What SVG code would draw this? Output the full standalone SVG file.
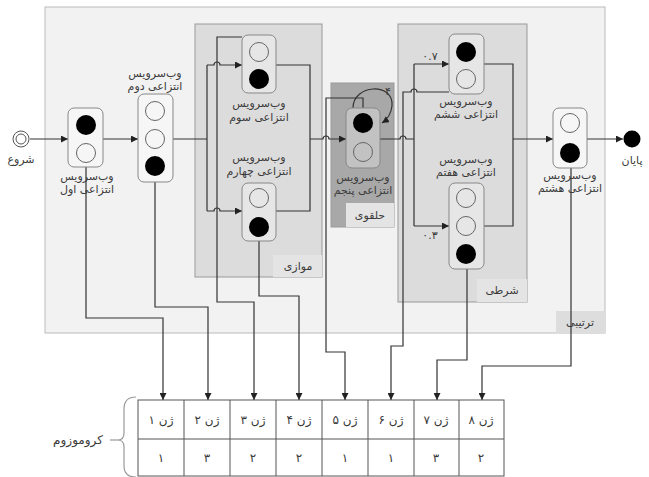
<svg xmlns="http://www.w3.org/2000/svg" width="649" height="477" viewBox="0 0 649 477">
<defs>
<marker id="arr" viewBox="0 0 10 10" refX="10" refY="5" markerWidth="7" markerHeight="7" markerUnits="userSpaceOnUse" orient="auto">
<path d="M0,0 L10,5 L0,10 z" fill="#222"/>
</marker>
<style>
text{font-family:"DejaVu Sans","Noto Sans",sans-serif;fill:#3a3a3a;font-size:11px;text-anchor:middle;}
.rtl{direction:rtl;}
.ltr{direction:ltr;}
.ws{fill:#ffffff;fill-opacity:0.3;stroke:#888;stroke-width:1;}
.wc{fill:none;stroke:#666;stroke-width:1;}
.bc{fill:#000;}
.con{fill:none;stroke:#333;stroke-width:1.2;}
.arrow{marker-end:url(#arr);}
.lbl{fill:#e4e4e4;}
.cell{fill:none;stroke:#555;stroke-width:1;}
.g{font-size:12px;}
</style>
</defs>

<g id="sequential">
<rect x="45" y="7" width="560" height="326" fill="#f2f2f2" stroke="#bbb" stroke-width="1"/>
<rect x="556" y="311" width="49" height="22" fill="#dddddd"/>
<text x="580" y="326" class="rtl">ترتیبی</text>
</g>
<g id="parallel">
<rect x="195" y="24" width="127" height="253" fill="#dcdcdc" stroke="#999" stroke-width="1"/>
<rect x="273" y="255" width="49" height="22" class="lbl"/>
<text x="298" y="270" class="rtl">موازی</text>
</g>
<g id="loop">
<rect x="331" y="83" width="63" height="144" fill="#a8a8a8" stroke="#999" stroke-width="1"/>
<rect x="346" y="203" width="48" height="24" class="lbl"/>
<text x="370" y="219" class="rtl">حلقوی</text>
</g>
<g id="conditional">
<rect x="398" y="24" width="129" height="278" fill="#dcdcdc" stroke="#999" stroke-width="1"/>
<rect x="477" y="279" width="50" height="23" class="lbl"/>
<text x="502" y="294" class="rtl">شرطی</text>
</g>

<g id="connectors">
<path class="con arrow" d="M30 139 L68 139"/>
<path class="con arrow" d="M103 139 L138 139"/>
<path class="con" d="M173 139 L207 139 M207 65 L207 211"/>
<path class="con arrow" d="M207 65 L214 65 A3 3 0 0 1 220 65 L242 65"/>
<path class="con arrow" d="M207 211 L214 211 A3 3 0 0 1 220 211 L242 211"/>
<path class="con" d="M276 65 L310 65 L310 211 L276 211"/>
<path class="con arrow" d="M310 139 L323 139 A3 3 0 0 1 329 139 L346 139"/>
<path class="con arrow" d="M353 108 C353 84, 394 82, 392 106 C391 114, 388 119, 382 123"/>
<path class="con" d="M380 139 L400 139 A3 3 0 0 1 406 139 L414 139 M414 64 L414 226"/>
<path class="con arrow" d="M414 64 L449 64"/>
<path class="con arrow" d="M414 226 L449 226"/>
<path class="con" d="M484 64 L513 64 L513 226 L484 226"/>
<path class="con arrow" d="M513 139 L553 139"/>
<path class="con arrow" d="M587 139 L623 139"/>
<path class="con arrow" d="M86 167 L86 318 L163 318 L163 400"/>
<path class="con arrow" d="M155 182 L155 307 L208 307 L208 400"/>
<path class="con arrow" d="M242 37 L217 37 L217 302 L254 302 L254 400"/>
<path class="con arrow" d="M259 241 L259 296 L299 296 L299 400"/>
<path class="con arrow" d="M363 108 L363 98 L326 98 L326 352 L345 352 L345 400"/>
<path class="con arrow" d="M449 92 L417 92 A3 3 0 0 0 411 92 L403 92 L403 346 L391 346 L391 400"/>
<path class="con arrow" d="M467 269 L467 360 L437 360 L437 400"/>
<path class="con arrow" d="M571 168 L571 366 L482 366 L482 400"/>
<text x="430" y="60" class="ltr">۰.۷</text>
<text x="430" y="239" class="ltr">۰.۳</text>
<text x="388" y="95">۴</text>
</g>

<g id="start">
<circle cx="21" cy="139" r="8" fill="#fff" stroke="#555" stroke-width="1"/>
<circle cx="21" cy="139" r="5" fill="#fff" stroke="#555" stroke-width="1"/>
<text x="21" y="163" class="rtl">شروع</text>
</g>

<g id="ws1">
<rect x="68" y="108" width="35" height="59" rx="6" class="ws"/>
<circle cx="86" cy="125" r="10" class="bc"/>
<circle cx="86" cy="153" r="9.5" class="wc"/>
<text x="87" y="180" class="rtl">وب‌سرویس</text>
<text x="87" y="193" class="rtl">انتزاعی اول</text>
</g>

<g id="ws2">
<rect x="138" y="94" width="35" height="88" rx="6" class="ws"/>
<circle cx="155" cy="111" r="9.5" class="wc"/>
<circle cx="155" cy="139" r="9.5" class="wc"/>
<circle cx="155" cy="166" r="10" class="bc"/>
<text x="155" y="77" class="rtl">وب‌سرویس</text>
<text x="155" y="90" class="rtl">انتزاعی دوم</text>
</g>

<g id="ws3">
<rect x="242" y="35" width="34" height="58" rx="6" class="ws"/>
<circle cx="259" cy="52" r="9.5" class="wc"/>
<circle cx="259" cy="79" r="10" class="bc"/>
<text x="259" y="107" class="rtl">وب‌سرویس</text>
<text x="259" y="121" class="rtl">انتزاعی سوم</text>
</g>

<g id="ws4">
<rect x="242" y="183" width="34" height="58" rx="6" class="ws"/>
<circle cx="259" cy="198" r="9.5" class="wc"/>
<circle cx="259" cy="227" r="10" class="bc"/>
<text x="259" y="161" class="rtl">وب‌سرویس</text>
<text x="259" y="175" class="rtl">انتزاعی چهارم</text>
</g>

<g id="ws5">
<rect x="346" y="108" width="34" height="60" rx="6" class="ws"/>
<circle cx="363" cy="123" r="10" class="bc"/>
<circle cx="363" cy="152" r="9.5" class="wc"/>
<text x="363" y="181" class="rtl">وب‌سرویس</text>
<text x="363" y="194" class="rtl">انتزاعی پنجم</text>
</g>

<g id="ws6">
<rect x="449" y="34" width="35" height="60" rx="6" class="ws"/>
<circle cx="466" cy="52" r="10" class="bc"/>
<circle cx="466" cy="79" r="9.5" class="wc"/>
<text x="466" y="105" class="rtl">وب‌سرویس</text>
<text x="466" y="118" class="rtl">انتزاعی ششم</text>
</g>

<g id="ws7">
<rect x="449" y="183" width="35" height="86" rx="6" class="ws"/>
<circle cx="466" cy="198" r="9.5" class="wc"/>
<circle cx="466" cy="226" r="9.5" class="wc"/>
<circle cx="466" cy="254" r="10" class="bc"/>
<text x="466" y="163" class="rtl">وب‌سرویس</text>
<text x="466" y="176" class="rtl">انتزاعی هفتم</text>
</g>

<g id="ws8">
<rect x="553" y="108" width="34" height="60" rx="6" class="ws"/>
<circle cx="570" cy="123" r="9.5" class="wc"/>
<circle cx="570" cy="153" r="10" class="bc"/>
<text x="570" y="179" class="rtl">وب‌سرویس</text>
<text x="570" y="192" class="rtl">انتزاعی هشتم</text>
</g>

<g id="end">
<circle cx="632" cy="139" r="8.5" fill="#000"/>
<text x="632" y="164" class="rtl">پایان</text>
</g>

<g id="chromosome">
<path d="M136 397 Q124 397 124 409 L124 433 Q124 440 118 440 Q124 440 124 447 L124 466 Q124 477 136 477" fill="none" stroke="#999" stroke-width="1.2"/>
<path d="M110 440 L118 440" stroke="#999" stroke-width="1.2"/>
<text x="78" y="444" class="rtl g">کروموزوم</text>
<rect x="138" y="400" width="366" height="76" class="cell"/>
<path class="cell" d="M138 439 L504 439 M184 400 L184 476 M230 400 L230 476 M276 400 L276 476 M322 400 L322 476 M368 400 L368 476 M414 400 L414 476 M459 400 L459 476"/>
<text x="161" y="424" class="rtl g">ژن ۱</text>
<text x="207" y="424" class="rtl g">ژن ۲</text>
<text x="253" y="424" class="rtl g">ژن ۳</text>
<text x="299" y="424" class="rtl g">ژن ۴</text>
<text x="345" y="424" class="rtl g">ژن ۵</text>
<text x="391" y="424" class="rtl g">ژن ۶</text>
<text x="436" y="424" class="rtl g">ژن ۷</text>
<text x="481" y="424" class="rtl g">ژن ۸</text>
<text x="161" y="462" class="g">۱</text>
<text x="207" y="462" class="g">۳</text>
<text x="253" y="462" class="g">۲</text>
<text x="299" y="462" class="g">۲</text>
<text x="345" y="462" class="g">۱</text>
<text x="391" y="462" class="g">۱</text>
<text x="436" y="462" class="g">۳</text>
<text x="481" y="462" class="g">۲</text>
</g>
</svg>
